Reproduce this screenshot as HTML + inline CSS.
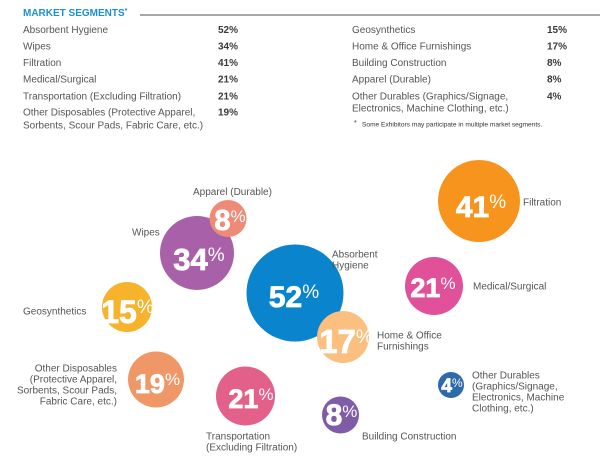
<!DOCTYPE html>
<html>
<head>
<meta charset="utf-8">
<style>
html,body{margin:0;padding:0;background:#fff;}
svg{display:block;}
.t{font-family:"Liberation Sans",sans-serif;font-size:10px;fill:#555;}
.p{font-family:"Liberation Sans",sans-serif;font-size:10px;font-weight:bold;fill:#3a3a3a;}
.n{font-family:"Liberation Sans",sans-serif;font-weight:bold;fill:#fff;stroke:#fff;stroke-width:0.8px;}
.pc{font-weight:normal;stroke:none;}
</style>
</head>
<body>
<svg width="600" height="464" viewBox="0 0 600 464" xmlns="http://www.w3.org/2000/svg">
<!-- header -->
<text x="23" y="16" font-family="Liberation Sans, sans-serif" font-size="10" font-weight="bold" fill="#1b8fd0">MARKET SEGMENTS<tspan font-size="7" dy="-3">*</tspan></text>
<line x1="140" y1="15" x2="600" y2="15" stroke="#8a8a8a" stroke-width="1.5"/>

<!-- left table -->
<text class="t" x="23" y="33">Absorbent Hygiene</text><text class="p" x="218" y="33">52%</text>
<text class="t" x="23" y="49.5">Wipes</text><text class="p" x="218" y="49.5">34%</text>
<text class="t" x="23" y="66">Filtration</text><text class="p" x="218" y="66">41%</text>
<text class="t" x="23" y="82.5">Medical/Surgical</text><text class="p" x="218" y="82.5">21%</text>
<text class="t" x="23" y="99.5">Transportation (Excluding Filtration)</text><text class="p" x="218" y="99.5">21%</text>
<text class="t" x="23" y="115.5">Other Disposables (Protective Apparel,</text><text class="p" x="218" y="115.5">19%</text>
<text class="t" x="23" y="128.5">Sorbents, Scour Pads, Fabric Care, etc.)</text>

<!-- right table -->
<text class="t" x="352" y="33">Geosynthetics</text><text class="p" x="547" y="33">15%</text>
<text class="t" x="352" y="49.5">Home &amp; Office Furnishings</text><text class="p" x="547" y="49.5">17%</text>
<text class="t" x="352" y="66">Building Construction</text><text class="p" x="547" y="66">8%</text>
<text class="t" x="352" y="82.5">Apparel (Durable)</text><text class="p" x="547" y="82.5">8%</text>
<text class="t" x="352" y="99.5">Other Durables (Graphics/Signage,</text><text class="p" x="547" y="99.5">4%</text>
<text class="t" x="352" y="111.5">Electronics, Machine Clothing, etc.)</text>
<text x="354" y="125" font-family="Liberation Sans, sans-serif" font-size="7" fill="#333">*</text>
<text x="362" y="126.5" font-family="Liberation Sans, sans-serif" font-size="6.6" fill="#333">Some Exhibitors may participate in multiple market segments.</text>

<!-- circles -->
<circle cx="479" cy="201" r="41" fill="#f7941e"/>
<circle cx="434" cy="286" r="29" fill="#e0519a"/>
<circle cx="295" cy="293" r="48.5" fill="#0a84cc"/>
<circle cx="197" cy="253" r="37" fill="#a861a9"/>
<circle cx="228" cy="218.5" r="18.5" fill="#ef8a76"/>
<circle cx="127" cy="307" r="25" fill="#f6b32b"/>
<circle cx="156" cy="379.5" r="28" fill="#f09768"/>
<circle cx="245.5" cy="396" r="29.5" fill="#e3608b"/>
<circle cx="343" cy="337" r="26" fill="#fbc080"/>
<circle cx="451" cy="385" r="13" fill="#2c6aab"/>
<circle cx="340.5" cy="415" r="18.5" fill="#7f5ca8"/>

<!-- numbers -->
<text class="n" x="294" y="307" font-size="30" text-anchor="middle">52<tspan class="pc" font-size="19" dy="-9">%</tspan></text>
<text class="n" x="481" y="217" font-size="30" text-anchor="middle">41<tspan class="pc" font-size="19" dy="-9">%</tspan></text>
<text class="n" x="199" y="270" font-size="31" text-anchor="middle">34<tspan class="pc" font-size="19" dy="-9">%</tspan></text>
<text class="n" x="433" y="297" font-size="27" text-anchor="middle">21<tspan class="pc" font-size="17" dy="-8">%</tspan></text>
<text class="n" x="251" y="408" font-size="27" text-anchor="middle">21<tspan class="pc" font-size="17" dy="-8">%</tspan></text>
<text class="n" x="157.5" y="393" font-size="27" text-anchor="middle">19<tspan class="pc" font-size="17" dy="-8">%</tspan></text>
<text class="n" x="127.5" y="323" font-size="32" text-anchor="middle">15<tspan class="pc" font-size="19" dy="-10">%</tspan></text>
<text class="n" x="346" y="353" font-size="33" text-anchor="middle">17<tspan class="pc" font-size="19" dy="-10">%</tspan></text>
<text class="n" x="230" y="230" font-size="29" text-anchor="middle">8<tspan class="pc" font-size="17" dy="-8">%</tspan></text>
<text class="n" x="341.5" y="425" font-size="30" text-anchor="middle">8<tspan class="pc" font-size="17" dy="-8">%</tspan></text>
<text class="n" x="452" y="392" font-size="19" text-anchor="middle">4<tspan class="pc" font-size="12" dy="-5">%</tspan></text>

<!-- labels -->
<text class="t" x="193" y="195">Apparel (Durable)</text>
<text class="t" x="132" y="235.5">Wipes</text>
<text class="t" x="23" y="314.5">Geosynthetics</text>
<text class="t" x="117" y="371.5" text-anchor="end">Other Disposables</text>
<text class="t" x="117" y="382.5" text-anchor="end">(Protective Apparel,</text>
<text class="t" x="117" y="393.5" text-anchor="end">Sorbents, Scour Pads,</text>
<text class="t" x="117" y="404.5" text-anchor="end">Fabric Care, etc.)</text>
<text class="t" x="206" y="439.5">Transportation</text>
<text class="t" x="206" y="450.5">(Excluding Filtration)</text>
<text class="t" x="332" y="257.5">Absorbent</text>
<text class="t" x="332" y="268.5">Hygiene</text>
<text class="t" x="523" y="205.5">Filtration</text>
<text class="t" x="473" y="289.5">Medical/Surgical</text>
<text class="t" x="377" y="338.5">Home &amp; Office</text>
<text class="t" x="377" y="349.5">Furnishings</text>
<text class="t" x="472" y="378.5">Other Durables</text>
<text class="t" x="472" y="389.5">(Graphics/Signage,</text>
<text class="t" x="472" y="400.5">Electronics, Machine</text>
<text class="t" x="472" y="411.5">Clothing, etc.)</text>
<text class="t" x="362" y="439.5">Building Construction</text>
</svg>
</body>
</html>
